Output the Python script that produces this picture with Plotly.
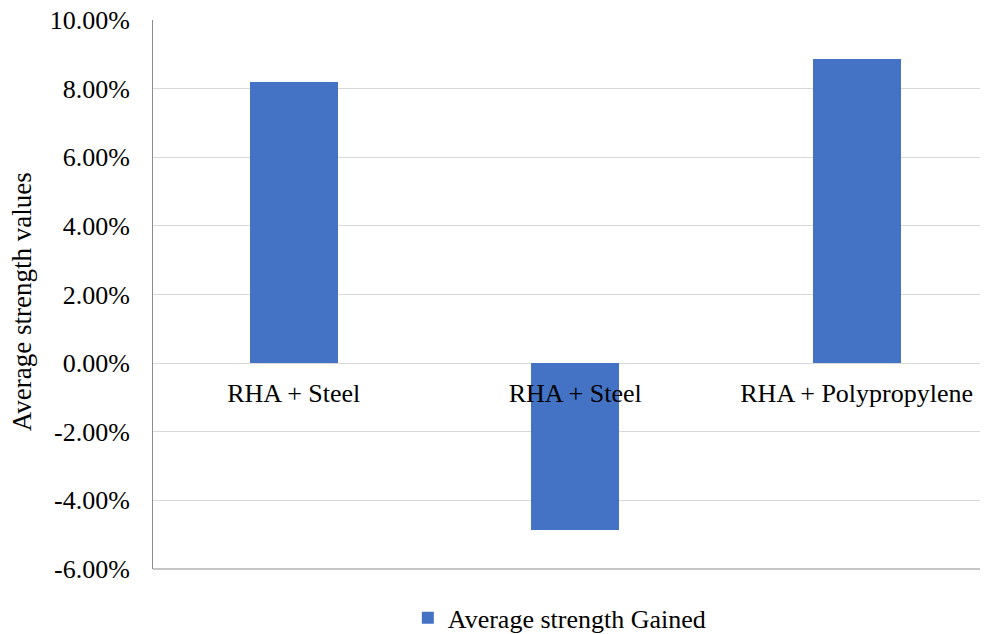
import plotly.graph_objects as go

categories = ["RHA + Steel", "RHA + Steel", "RHA + Polypropylene"]
values = [0.0820, -0.0487, 0.0885]
series_name = "Average strength Gained"
y_title = "Average strength values"
y_ticks = [-0.06, -0.04, -0.02, 0.0, 0.02, 0.04, 0.06, 0.08, 0.10]
y_tick_labels = ["-6.00%", "-4.00%", "-2.00%", "0.00%", "2.00%", "4.00%", "6.00%", "8.00%", "10.00%"]

positions = list(range(len(categories)))

fig = go.Figure()
fig.add_trace(go.Bar(
    x=positions, y=values, name=series_name,
    marker=dict(color="#4472C4", line=dict(width=0)),
    width=0.313, showlegend=True,
))

font_family = "Liberation Serif"
fs = 26

fig.update_layout(
    width=988, height=634,
    margin=dict(l=145, r=0, t=12, b=73, autoexpand=False),
    paper_bgcolor="white", plot_bgcolor="white",
    font=dict(family=font_family, size=fs, color="#000000"),
    showlegend=True,
    legend=dict(orientation="h", x=0.482, xanchor="center", y=-0.089, yanchor="middle",
                font=dict(size=fs, family=font_family)),
    xaxis=dict(
        tickmode="array", tickvals=positions, ticktext=categories,
        range=[-0.5, 2.495], anchor="free", position=0.375,
        showgrid=False, showline=False, zeroline=False, ticks="",
        ticklabelstandoff=12, tickfont=dict(size=fs, family=font_family),
        automargin=False, ticklabeloverflow="allow",
    ),
    yaxis=dict(
        range=[-0.06, 0.10], tickmode="array", tickvals=y_ticks, ticktext=y_tick_labels,
        showgrid=True, gridcolor="#d9d9d9", gridwidth=1,
        zeroline=True, zerolinecolor="#d9d9d9", zerolinewidth=1,
        showline=True, linecolor="#8c8c8c", linewidth=1,
        ticks="", ticklabelstandoff=17, ticklabeloverflow="allow",
        tickfont=dict(size=fs, family=font_family),
        automargin=False,
    ),
    bargap=0,
)

fig.add_annotation(text=y_title, textangle=-90, xref="paper", yref="paper",
                   x=0, y=0.486, xanchor="center", yanchor="middle", xshift=-131,
                   showarrow=False, font=dict(size=27, family=font_family, color="#000000"))

fig.add_shape(type="line", xref="paper", yref="paper", x0=0, x1=1, y0=0, y1=0,
              line=dict(color="#8c8c8c", width=1))

fig.write_html("out.html")
